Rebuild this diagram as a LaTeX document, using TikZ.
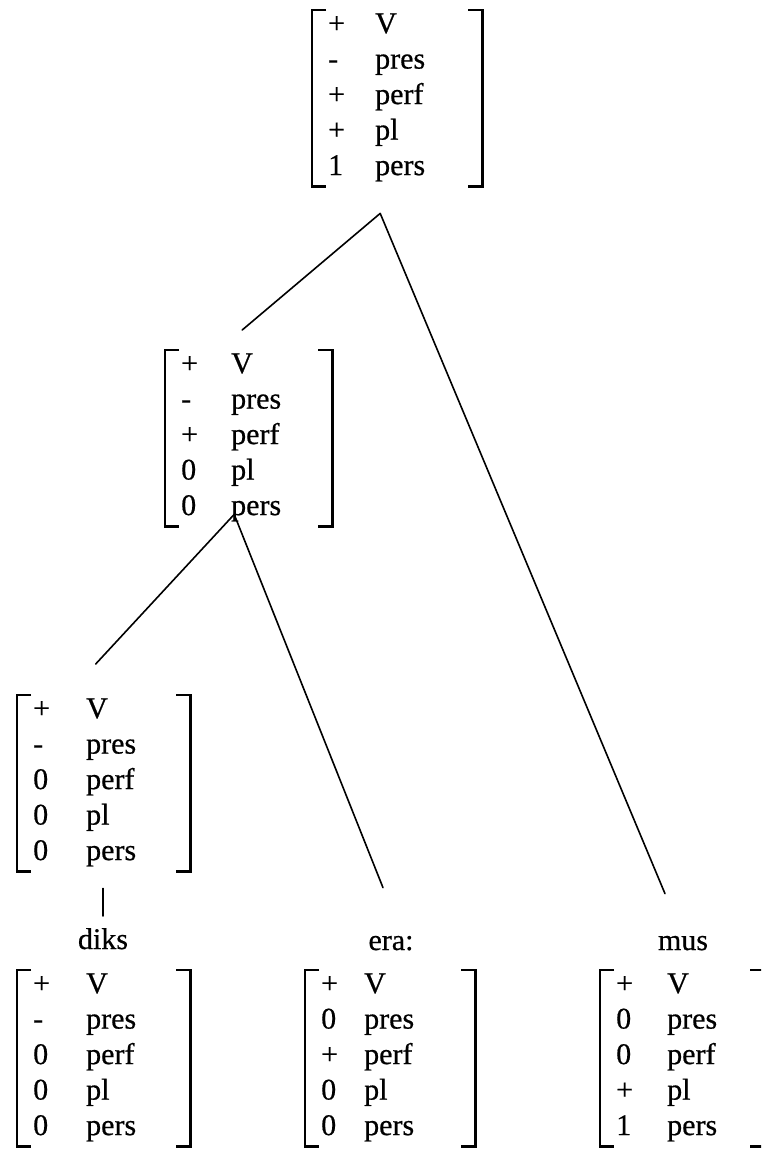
\documentclass[tikz,border=0pt]{standalone}
\usepackage{fontspec}
\setmainfont{Liberation Serif}[FakeBold=0.6]
\usetikzlibrary{calc}
\newcommand\fsz{\fontsize{30}{35.5}\selectfont}
\tikzset{
  matbox/.style={inner sep=0pt, minimum height=176pt, draw=none},
  brk/.style={line width=2.2pt, line cap=butt, line join=miter},
  ftext/.style={inner sep=0pt, font=\fsz},
  lbl/.style={inner sep=0pt, font=\fsz},
  conn/.style={line width=1.6pt, line cap=round}
}
\newcommand\fmatrix[6]{%
  \node[matbox, minimum width=#4pt, anchor=north west] (#1) at (#2,#3) {};
  \draw[brk] ([xshift=14pt]#1.north west) -- (#1.north west) -- (#1.south west) -- ([xshift=14pt]#1.south west);
  \draw[brk] ([xshift=-14pt]#1.north east) -- (#1.north east) -- (#1.south east) -- ([xshift=-14pt]#1.south east);
  \node[ftext, anchor=north west] (#1-t) at ($(#1.north west)+(16,-2)$) {\begin{tabular}{@{}p{#5pt}@{}l@{}}#6\end{tabular}};
}
\begin{document}
\begin{tikzpicture}[x=1pt,y=-1pt]
\useasboundingbox (0,0) rectangle (761,1154);
\clip (0,0) rectangle (761,1154);
\fill[white] (0,0) rectangle (761,1154);
% feature matrices
\fmatrix{top}{312}{10}{170}{47}{+ & V\\ - & pres\\ + & perf\\ + & pl\\ 1 & pers}
\fmatrix{mid}{165}{350}{167}{50}{+ & V\\ - & pres\\ + & perf\\ 0 & pl\\ 0 & pers}
\fmatrix{ll}{17}{695}{173}{53}{+ & V\\ - & pres\\ 0 & perf\\ 0 & pl\\ 0 & pers}
\fmatrix{bl}{17}{970}{173}{53}{+ & V\\ - & pres\\ 0 & perf\\ 0 & pl\\ 0 & pers}
\fmatrix{era}{305}{970}{170}{43}{+ & V\\ 0 & pres\\ + & perf\\ 0 & pl\\ 0 & pers}
\fmatrix{mus}{600}{970}{164}{51}{+ & V\\ 0 & pres\\ 0 & perf\\ + & pl\\ 1 & pers}
% labels
\node[lbl, anchor=base] (diks) at (103,949) {diks};
\node[lbl, anchor=base] (eral) at (391,950) {era:};
\node[lbl, anchor=base] (musl) at (683,950) {mus};
% branch points
\coordinate (topA) at ($(top.south)+(-17,27)$);
\coordinate (midN) at ($(mid.north)+(-6.5,-20)$);
\coordinate (midA) at ($(mid.south)+(-14.5,-12)$);
\coordinate (llN)  at ($(ll.north)+(-8,-31)$);
\coordinate (eraN) at ($(eral.north)+(-8,-48)$);
\coordinate (musN) at ($(musl.north)+(-18,-42)$);
% connectors
\draw[conn] (topA) -- (midN);
\draw[conn] (topA) -- (musN);
\draw[conn] (midA) -- (llN);
\draw[conn] (midA) -- (eraN);
\draw[conn] ($(ll.south -| diks.north)+(0,17)$) -- ($(diks.north)+(0,-12)$);
\end{tikzpicture}
\end{document}
